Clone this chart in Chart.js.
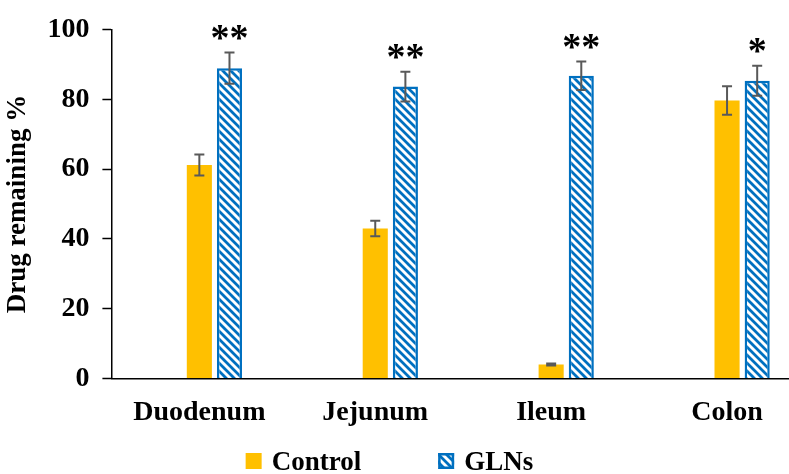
<!DOCTYPE html>
<html>
<head>
<meta charset="utf-8">
<script src="https://cdn.jsdelivr.net/npm/chart.js@4.4.1/dist/chart.umd.min.js"></script>
<style>
  html, body { margin: 0; padding: 0; background: #fff; overflow: hidden; width: 789px; height: 474px; }
  #wrap { width: 820px; height: 474px; }
</style>
</head>
<body>
<div id="wrap"><canvas id="c" width="820" height="474"></canvas></div>
<script>
// ---- data ----
const categories = ['Duodenum', 'Jejunum', 'Ileum', 'Colon'];
const blankSlot = [null, null, null, null];          // empty first slot of each group
const controlValues = [61.2, 43.0, 4.0, 79.7];
const controlErrors = [3.0, 2.2, 0.3, 4.1];
const glnValues = [89.0, 83.7, 86.8, 85.4];
const glnErrors = [4.5, 4.3, 4.1, 4.3];
const significance = ['**', '**', '**', '*'];
const yTicks = [0, 20, 40, 60, 80, 100];

const SERIF = "'Liberation Serif', 'Times New Roman', serif";
const ORANGE = '#FFC000';
const BLUE = '#0070C0';
const ERR = '#595959';

// diagonal hatch used by the GLNs bars
function makeHatch() {
  const t = document.createElement('canvas');
  t.width = 8; t.height = 8;
  const g = t.getContext('2d');
  g.fillStyle = '#fff';
  g.fillRect(0, 0, 8, 8);
  g.strokeStyle = BLUE;
  g.lineWidth = 2.8;
  g.beginPath();
  for (let k = -2; k <= 2; k++) {
    g.moveTo(k * 8 - 2, -2);
    g.lineTo(k * 8 + 10, 10);
  }
  g.stroke();
  return document.getElementById('c').getContext('2d').createPattern(t, 'repeat');
}
const hatch = makeHatch();

// error bars (mean ± error) on top of each bar
const errorBars = {
  id: 'errorBars',
  afterDatasetsDraw(chart) {
    const ctx = chart.ctx, y = chart.scales.y;
    chart.data.datasets.forEach((ds, i) => {
      if (!ds.errors) return;
      chart.getDatasetMeta(i).data.forEach((bar, j) => {
        const v = ds.data[j], e = ds.errors[j];
        const x = bar.x;
        const yt = y.getPixelForValue(v + e), yb = y.getPixelForValue(v - e);
        ctx.save();
        ctx.strokeStyle = ERR;
        ctx.lineWidth = 2;
        ctx.beginPath();
        ctx.moveTo(x, yt); ctx.lineTo(x, yb);
        ctx.moveTo(x - 5, yt); ctx.lineTo(x + 5, yt);
        ctx.moveTo(x - 5, yb); ctx.lineTo(x + 5, yb);
        ctx.stroke();
        ctx.restore();
      });
    });
  }
};

// significance stars above the GLNs bars
const stars = {
  id: 'stars',
  afterDatasetsDraw(chart) {
    const ctx = chart.ctx, y = chart.scales.y;
    const idx = chart.data.datasets.findIndex(d => d.label === 'GLNs');
    const ds = chart.data.datasets[idx];
    ctx.save();
    ctx.fillStyle = '#000';
    ctx.font = 'bold 38px ' + SERIF;
    ctx.textAlign = 'center';
    ctx.textBaseline = 'alphabetic';
    chart.getDatasetMeta(idx).data.forEach((bar, j) => {
      const txt = significance[j];
      const m = ctx.measureText(txt);
      const top = y.getPixelForValue(ds.data[j] + ds.errors[j]);
      const cy = top - 20;
      const base = cy + (m.actualBoundingBoxAscent - m.actualBoundingBoxDescent) / 2;
      ctx.fillText(txt, bar.x, base);
    });
    ctx.restore();
  }
};

// legend row under the category labels
const legendRow = {
  id: 'legendRow',
  afterDraw(chart) {
    const ctx = chart.ctx;
    const items = chart.data.datasets.filter(d => d.label);
    const cy = 461, box = 16, gapText = 10, gapItems = 77;
    ctx.save();
    ctx.font = 'bold 27px ' + SERIF;
    ctx.textBaseline = 'middle';
    ctx.fillStyle = '#000';
    const widths = items.map(d => box + gapText + ctx.measureText(d.label).width);
    const total = widths.reduce((a, b) => a + b, 0) + gapItems * (items.length - 1);
    let x = chart.chartArea.left + 278 - total / 2;
    items.forEach((d, i) => {
      ctx.fillStyle = d.backgroundColor;
      ctx.fillRect(x, cy - box / 2, box, box);
      if (d.borderWidth) {
        ctx.strokeStyle = d.borderColor;
        ctx.lineWidth = 2.5;
        ctx.strokeRect(x + 1.25, cy - box / 2 + 1.25, box - 2.5, box - 2.5);
      }
      ctx.fillStyle = '#000';
      ctx.fillText(d.label, x + box + gapText, cy + 2);
      x += widths[i] + gapItems;
    });
    ctx.restore();
  }
};

const tickFont = { family: SERIF, size: 28, weight: 'bold' };
const titleFont = { family: SERIF, size: 27, weight: 'bold' };

new Chart(document.getElementById('c'), {
  type: 'bar',
  data: {
    labels: categories,
    datasets: [
      { label: '', data: blankSlot, backgroundColor: 'rgba(0,0,0,0)' },
      { label: 'Control', data: controlValues, errors: controlErrors,
        backgroundColor: ORANGE, borderWidth: 0 },
      { label: 'GLNs', data: glnValues, errors: glnErrors,
        backgroundColor: hatch, borderColor: BLUE, borderWidth: 2.5 }
    ]
  },
  options: {
    responsive: false,
    animation: false,
    devicePixelRatio: 1,
    layout: { padding: { top: 9, bottom: 26, left: 2, right: 5 } },
    datasets: { bar: { barPercentage: 0.833, categoryPercentage: 0.514 } },
    plugins: { legend: { display: false }, tooltip: { enabled: false } },
    scales: {
      x: {
        grid: { display: false, drawTicks: false },
        border: { display: true, color: '#000', width: 1.5 },
        ticks: { color: '#000', font: { family: SERIF, size: 28, weight: 'bold' }, padding: 18 }
      },
      y: {
        min: 0, max: 100,
        afterBuildTicks: s => { s.ticks = yTicks.map(v => ({ value: v })); },
        grid: { drawOnChartArea: false, drawTicks: true, tickLength: 9, tickColor: '#000', tickWidth: 1.5 },
        border: { display: true, color: '#000', width: 1.5 },
        ticks: { color: '#000', font: tickFont, padding: 13 },
        title: { display: true, text: 'Drug remaining %', color: '#000', font: titleFont, padding: 0 }
      }
    }
  },
  plugins: [errorBars, stars, legendRow]
});
</script>
</body>
</html>
